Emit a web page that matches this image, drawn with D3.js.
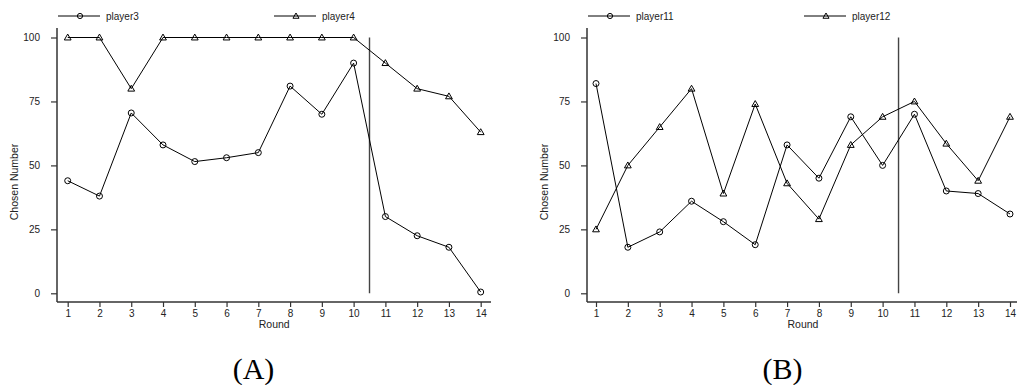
<!DOCTYPE html>
<html>
<head>
<meta charset="utf-8">
<script src="https://cdn.jsdelivr.net/npm/d3@7"></script>
<style>
  html, body { margin: 0; padding: 0; background: #fff; }
  svg { display: block; }
</style>
</head>
<body>
<svg id="chart" width="1018" height="385"></svg>
<script>
// Rounds 1..14
const rounds = [1, 2, 3, 4, 5, 6, 7, 8, 9, 10, 11, 12, 13, 14];
const yTicks = [0, 25, 50, 75, 100];

// Panel A
const player3  = [44, 38, 70.5, 58, 51.5, 53, 55, 81, 70, 90, 30, 22.5, 18, 0.5];
const player4  = [100, 100, 80, 100, 100, 100, 100, 100, 100, 100, 90, 80, 77, 63];
// Panel B
const player11 = [82, 18, 24, 36, 28, 19, 58, 45, 69, 50, 70, 40, 39, 31];
const player12 = [25, 50, 65, 80, 39, 74, 43, 29, 58, 69, 75, 58.5, 44, 69];

const panelLabels = ["(A)", "(B)"];
const seriesNames = [["player3", "player4"], ["player11", "player12"]];
const seriesData  = [[player3, player4], [player11, player12]];
const breakRound = 10.5;

const sansFont = "'Liberation Sans', Arial, sans-serif";
const serifFont = "'Liberation Serif', 'DejaVu Serif', serif";

const svg = d3.select("#chart");

const panels = [
  { axisX: 57,  x0: 67.7, x1: 480.7, xEnd: 491,  caption: 253.5 },
  { axisX: 587, x0: 596,  x1: 1010,  xEnd: 1017, caption: 782.5 }
];

const yScale = d3.scaleLinear().domain([0, 100]).range([293.3, 37.5]);
const axisY = 302;
const axisColor = "#333";

const tri = d3.symbol().type(d3.symbolTriangle).size(20)();
const triSmall = d3.symbol().type(d3.symbolTriangle).size(16)();

function drawMarker(g, kind, x, y, small) {
  if (kind === 0) {
    g.append("circle").attr("cx", x).attr("cy", y).attr("r", small ? 2.6 : 3)
      .attr("fill", "none").attr("stroke", "#000").attr("stroke-width", 1);
  } else {
    g.append("path").attr("d", small ? triSmall : tri)
      .attr("transform", `translate(${x},${y + 0.5})`)
      .attr("fill", "none").attr("stroke", "#000").attr("stroke-width", 1);
  }
}

panels.forEach((p, i) => {
  const g = svg.append("g");
  const x = d3.scaleLinear().domain([1, 14]).range([p.x0, p.x1]);

  // y axis
  const yAx = g.append("g").attr("transform", `translate(${p.axisX},0)`)
    .call(d3.axisLeft(yScale).tickValues(yTicks).tickSize(6).tickPadding(11));
  yAx.select(".domain").remove();
  yAx.selectAll("line").attr("stroke", axisColor).attr("stroke-width", 1.2);
  yAx.selectAll("text").style("font-size", "10px").style("fill", "#222")
    .style("font-family", sansFont);

  // x axis
  const xAx = g.append("g").attr("transform", `translate(0,${axisY})`)
    .call(d3.axisBottom(x).tickValues(rounds).tickSize(5).tickPadding(3).tickFormat(d3.format("d")));
  xAx.select(".domain").remove();
  xAx.selectAll("line").attr("stroke", axisColor).attr("stroke-width", 1.2);
  xAx.selectAll("text").style("font-size", "10px").style("fill", "#222")
    .style("font-family", sansFont);

  // axis lines
  g.append("line").attr("x1", p.axisX).attr("x2", p.axisX).attr("y1", 28).attr("y2", axisY)
    .attr("stroke", axisColor).attr("stroke-width", 1.5);
  g.append("line").attr("x1", p.axisX).attr("x2", p.xEnd).attr("y1", axisY).attr("y2", axisY)
    .attr("stroke", axisColor).attr("stroke-width", 1.5);

  // axis titles
  g.append("text").attr("x", (p.x0 + p.x1) / 2).attr("y", 328)
    .attr("text-anchor", "middle").style("font-size", "10.5px").style("fill", "#222")
    .style("font-family", sansFont).text("Round");
  g.append("text").attr("transform", `translate(${p.axisX - 39},182) rotate(-90)`)
    .attr("text-anchor", "middle").style("font-size", "10.5px").style("fill", "#222")
    .style("font-family", sansFont).text("Chosen Number");

  // treatment break
  g.append("line").attr("x1", x(breakRound)).attr("x2", x(breakRound))
    .attr("y1", yScale(100)).attr("y2", yScale(0))
    .attr("stroke", "#444").attr("stroke-width", 1.4);

  // series
  const line = d3.line().x((d, j) => x(rounds[j])).y(d => yScale(d));
  seriesData[i].forEach((vals, k) => {
    g.append("path").datum(vals).attr("d", line)
      .attr("fill", "none").attr("stroke", "#000").attr("stroke-width", 1);
    vals.forEach((v, j) => drawMarker(g, k, x(rounds[j]), yScale(v), false));
  });

  // legend
  const legendX = [p.axisX + 1, p.axisX + 217];
  seriesNames[i].forEach((name, k) => {
    const lx = legendX[k];
    g.append("line").attr("x1", lx).attr("x2", lx + 42).attr("y1", 16).attr("y2", 16)
      .attr("stroke", "#000").attr("stroke-width", 1);
    drawMarker(g, k, lx + 22, 16, true);
    g.append("text").attr("x", lx + 48).attr("y", 19.5)
      .style("font-size", "10px").style("fill", "#222").style("font-family", sansFont)
      .text(name);
  });

  // panel caption
  g.append("text").attr("x", p.caption).attr("y", 379)
    .attr("text-anchor", "middle").style("font-size", "30px")
    .style("font-family", serifFont).style("fill", "#000")
    .text(panelLabels[i]);
});
</script>
</body>
</html>
